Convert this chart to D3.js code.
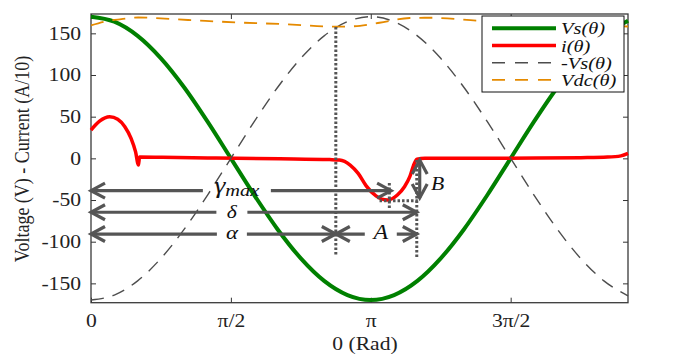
<!DOCTYPE html>
<html>
<head>
<meta charset="utf-8">
<script src="https://cdn.jsdelivr.net/npm/d3@7"></script>
<style>
    body { margin: 0; background: #fff; }
    svg { display: block; font-family: "Liberation Serif", "Times New Roman", serif; }
</style>
</head>
<body>
<div id="chart"></div>
<script>
// samples (theta in degrees for the source voltage)
const vsDeg      = [0, 15, 30, 45, 60, 75, 90, 105, 120, 135, 150, 165, 180, 195, 210, 225, 240, 255, 270, 285, 300, 315, 330, 345.5];
const vsValues   = [170, 164, 147, 120, 85, 44, 0, -44, -85, -120, -147, -164, -170, -164, -147, -120, -85, -44, 0, 44, 85, 120, 147, 165];
const negVsValues = [-170, -164, -147, -120, -85, -44, 0, 44, 85, 120, 147, 164, 170, 164, 147, 120, 85, 44, 0, -44, -85, -120, -147, -165];

// current (A/10), theta in rad
const iTheta  = [0, 0.05, 0.1, 0.21, 0.3, 0.38, 0.45, 0.5, 0.533, 0.545, 0.8, 1.31, 2.12, 2.68, 2.79, 2.91, 3.0, 3.09, 3.2, 3.33, 3.44, 3.52, 3.58, 3.62, 3.66, 3.75, 4.5, 5.0, 5.5, 5.8, 5.95, 6.03];
const iValues = [34, 40, 45, 50, 47, 38, 24, 8, -8, 1.5, 1.2, 0.5, -0.5, -1.5, -2, -8, -18, -33, -45, -50, -44, -34, -22, -9, -1, 0, 0, 0.3, 0.8, 1.5, 3, 6];

// dc voltage, theta in rad
const vdcTheta  = [0, 0.19, 0.34, 0.53, 1.09, 1.65, 2.21, 2.68, 2.79, 3.02, 3.24, 3.58, 3.8, 4.36, 5.0, 5.6, 6.03];
const vdcValues = [159.6, 165, 167, 169, 166, 163, 160.8, 158.2, 158, 159, 162.7, 168.4, 168.7, 165, 162, 159.8, 158.2];

const xTickValues = [0, Math.PI / 2, Math.PI, 3 * Math.PI / 2];
const xTickLabels = ["0", "π/2", "π", "3π/2"];
const yTickValues = [-150, -100, -50, 0, 50, 100, 150];

const legendLabels = ["Vs(θ)", "i(θ)", "-Vs(θ)", "Vdc(θ)"];

class ConverterChart {
    constructor(parentSelector) {
        this.parent = d3.select(parentSelector);
        this.wSvg = 693;
        this.hSvg = 354;
        this.left = 91;
        this.right = 628;
        this.top = 14;
        this.bottom = 302.7;
        this.grey = "#555";
        this.init();
    }

    init() {
        this.svg = this.parent.append("svg")
            .attr("width", this.wSvg)
            .attr("height", this.hSvg);

        this.prepScales();
        this.renderAxes();
        this.renderLines();
        this.renderAnnotations();
        this.renderLegend();
    }

    prepScales() {
        this.x = d3.scaleLinear().domain([0, 6.03]).range([this.left, this.right]);
        this.y = d3.scaleLinear().domain([-173.2, 173.2]).range([this.bottom, this.top]);
    }

    renderAxes() {
        const x = this.x, y = this.y;

        const bottom = this.svg.append("g")
            .attr("transform", `translate(0,${this.bottom})`)
            .call(d3.axisBottom(x).tickValues(xTickValues)
                .tickFormat((d, i) => xTickLabels[i]).tickSizeInner(-5).tickSizeOuter(0));
        bottom.selectAll("text")
            .attr("y", 24).attr("dy", 0)
            .attr("transform", "scale(1.2,1)");

        this.svg.append("g")
            .attr("transform", `translate(0,${this.top})`)
            .call(d3.axisTop(x).tickValues(xTickValues).tickFormat("").tickSizeInner(-5).tickSizeOuter(0));

        const leftAxis = this.svg.append("g")
            .attr("transform", `translate(${this.left},0)`)
            .call(d3.axisLeft(y).tickValues(yTickValues)
                .tickFormat(d => String(d)).tickSizeInner(-5).tickSizeOuter(0));
        leftAxis.selectAll("text")
            .attr("x", 0)
            .attr("transform", "translate(-10,0) scale(1.2,1)");

        this.svg.append("g")
            .attr("transform", `translate(${this.right},0)`)
            .call(d3.axisRight(y).tickValues(yTickValues).tickFormat("").tickSizeInner(-5).tickSizeOuter(0));

        this.svg.selectAll(".domain").remove();
        this.svg.selectAll(".tick line").attr("stroke", "#333");
        this.svg.selectAll(".tick text")
            .attr("font-family", "Liberation Serif, Times New Roman, serif")
            .attr("font-size", 18)
            .attr("fill", "#222");

        this.svg.append("rect")
            .attr("x", this.left).attr("y", this.top)
            .attr("width", this.right - this.left)
            .attr("height", this.bottom - this.top)
            .attr("fill", "none")
            .attr("stroke", "#3a3a3a")
            .attr("stroke-width", 1.3);

        this.svg.append("text")
            .attr("transform", `translate(365,350) scale(1.2,1)`)
            .attr("text-anchor", "middle")
            .attr("font-size", 18)
            .attr("fill", "#222")
            .text("0 (Rad)");

        this.svg.append("text")
            .attr("transform", `translate(29,159) scale(1.2,1) rotate(-90)`)
            .attr("text-anchor", "middle")
            .attr("font-size", 18)
            .attr("fill", "#222")
            .text("Voltage (V) - Current (A/10)");
    }

    renderLines() {
        const x = this.x, y = this.y;
        const line = d3.line()
            .x(d => x(d[0]))
            .y(d => y(d[1]))
            .curve(d3.curveMonotoneX);

        const vsData = vsDeg.map((d, i) => [d * Math.PI / 180, vsValues[i]]);
        const negVsData = vsDeg.map((d, i) => [d * Math.PI / 180, negVsValues[i]]);
        const iData = iTheta.map((d, i) => [d, iValues[i]]);
        const vdcData = vdcTheta.map((d, i) => [d, vdcValues[i]]);

        const plot = this.svg.append("g");

        plot.append("path").datum(vsData)
            .attr("d", line).attr("fill", "none")
            .attr("stroke", "#008000").attr("stroke-width", 4);

        plot.append("path").datum(iData)
            .attr("d", line).attr("fill", "none")
            .attr("stroke", "#ff0000").attr("stroke-width", 3.5)
            .attr("stroke-linejoin", "round");

        plot.append("path").datum(negVsData)
            .attr("d", line).attr("fill", "none")
            .attr("stroke", "#4d4d4d").attr("stroke-width", 1.4)
            .attr("stroke-dasharray", "13,9");

        plot.append("path").datum(vdcData)
            .attr("d", line).attr("fill", "none")
            .attr("stroke", "#e58a00").attr("stroke-width", 1.8)
            .attr("stroke-dasharray", "13,9");
    }

    chevron(g, px, py, ux, uy) {
        const L = 14, W = 7.5;
        const nx = -uy, ny = ux;
        g.append("path")
            .attr("d", `M${px - L * ux + W * nx},${py - L * uy + W * ny}L${px},${py}L${px - L * ux - W * nx},${py - L * uy - W * ny}`)
            .attr("fill", "none")
            .attr("stroke", this.grey)
            .attr("stroke-width", 3.2);
    }

    hArrow(g, t1, t2, value, labelTheta, gapHalf) {
        const x1 = this.x(t1), x2 = this.x(t2), yy = this.y(value);
        const xc = this.x(labelTheta);
        g.append("path")
            .attr("d", `M${x1},${yy}H${xc - gapHalf}M${xc + gapHalf},${yy}H${x2}`)
            .attr("stroke", this.grey)
            .attr("stroke-width", 3.2);
        this.chevron(g, x1, yy, -1, 0);
        this.chevron(g, x2, yy, 1, 0);
    }

    dotted(g, x1, y1, x2, y2) {
        g.append("line")
            .attr("x1", x1).attr("y1", y1).attr("x2", x2).attr("y2", y2)
            .attr("stroke", this.grey)
            .attr("stroke-width", 3)
            .attr("stroke-dasharray", "2.5,2");
    }

    label(g, px, py, size, text) {
        return g.append("text")
            .attr("transform", `translate(${px},${py}) scale(1.2,1)`)
            .attr("text-anchor", "middle")
            .attr("font-style", "italic")
            .attr("font-size", size)
            .attr("fill", "#111")
            .text(text);
    }

    renderAnnotations() {
        const x = this.x, y = this.y;
        const g = this.svg.append("g");

        const alphaT = 2.749, gammaT = 3.35, deltaT = 3.658;

        this.dotted(g, x(alphaT), y(157.5), x(alphaT), y(-117));
        this.dotted(g, x(deltaT), y(-2), x(deltaT), y(-119.5));
        this.dotted(g, x(gammaT), y(-29.6), x(gammaT), y(-59.6));
        this.dotted(g, x(3.24), y(-51), x(3.67), y(-51));

        // gamma max
        this.hArrow(g, 0, 3.37, -38.8, 1.638, 34);
        const gl = g.append("text")
            .attr("transform", `translate(${x(1.638)},${y(-38.8) + 2}) scale(1.2,1)`)
            .attr("text-anchor", "middle")
            .attr("font-style", "italic")
            .attr("fill", "#111");
        gl.append("tspan").attr("font-size", 23).text("γ");
        gl.append("tspan").attr("font-size", 17).attr("dy", 3).text("max");

        // delta
        this.hArrow(g, 0, deltaT, -64.7, 1.582, 15.5);
        this.label(g, x(1.582), y(-64.7) + 6, 18, "δ");

        // alpha and A
        this.hArrow(g, 0, alphaT, -90.8, 1.582, 15);
        this.label(g, x(1.582), y(-90.8) + 5, 19, "α");
        this.hArrow(g, alphaT, deltaT, -90.8, 3.254, 16);
        this.label(g, x(3.254), y(-90.8) + 5, 20, "A");

        // B
        const bx = x(3.691), by1 = y(-2), by2 = y(-47.5);
        g.append("line")
            .attr("x1", bx).attr("y1", by1).attr("x2", bx).attr("y2", by2)
            .attr("stroke", this.grey).attr("stroke-width", 3.2);
        this.chevron(g, bx, by1, 0, -1);
        this.chevron(g, bx, by2, 0, 1);
        this.label(g, x(3.893), y(-30) + 7, 18, "B");
    }

    renderLegend() {
        const lg = this.svg.append("g");
        lg.append("rect")
            .attr("x", 482).attr("y", 16)
            .attr("width", 142).attr("height", 76)
            .attr("fill", "#fff")
            .attr("stroke", "#111")
            .attr("stroke-width", 1);

        const styles = [
            { color: "#008000", width: 4, dash: null },
            { color: "#ff0000", width: 3.5, dash: null },
            { color: "#4d4d4d", width: 1.6, dash: "13,10" },
            { color: "#e58a00", width: 1.8, dash: "13,10" }
        ];

        legendLabels.forEach((name, i) => {
            const ly = 28.3 + i * 17.2;
            lg.append("line")
                .attr("x1", 492).attr("x2", 556)
                .attr("y1", ly).attr("y2", ly)
                .attr("stroke", styles[i].color)
                .attr("stroke-width", styles[i].width)
                .attr("stroke-dasharray", styles[i].dash);
            lg.append("text")
                .attr("transform", `translate(561,${ly + 6}) scale(1.2,1)`)
                .attr("font-style", "italic")
                .attr("font-size", 17)
                .attr("fill", "#111")
                .text(name);
        });
    }
}

new ConverterChart("#chart");
</script>
</body>
</html>
